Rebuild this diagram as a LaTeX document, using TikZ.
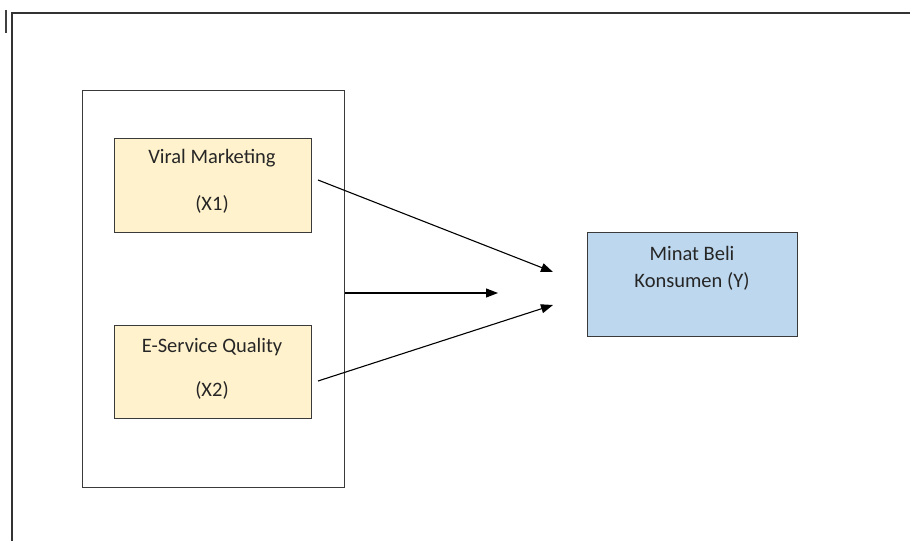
\documentclass[tikz,border=0pt]{standalone}
\usepackage{fontspec}
\setmainfont{Carlito}
\usetikzlibrary{arrows.meta}
\definecolor{boxline}{HTML}{3A3A3A}
\definecolor{xfill}{HTML}{FFF2CC}
\definecolor{yfill}{HTML}{BDD7EE}
\tikzset{
  varbox/.style={draw=boxline, line width=1.3pt, inner sep=0pt, anchor=north west},
  lbl/.style={font=\fontsize{20.5}{24}\selectfont, text=black!85, inner sep=0pt},
  link/.style={line width=1.1pt, -{Triangle[length=12pt,width=9pt]}},
}
\begin{document}
\begin{tikzpicture}[x=1pt, y=-1pt]
  \useasboundingbox (0,0) rectangle (910,541);
  % page frame
  \draw[line width=2pt, black!80] (12,541) -- (12,13) -- (911,13);
  \draw[line width=1.5pt, black!75] (6,10) -- (6,33);
  % grouping box
  \node[varbox, minimum width=262pt, minimum height=397pt] (grp) at (82,90) {};
  % independent variables
  \node[varbox, fill=xfill, minimum width=197pt, minimum height=94pt] (x1) at (114,138) {};
  \node[lbl] (x1a) at (212,158) {Viral Marketing};
  \node[lbl] (x1b) at (212,204) {(X1)};
  \node[varbox, fill=xfill, minimum width=197pt, minimum height=93pt] (x2) at (114,325) {};
  \node[lbl] (x2a) at (212,347) {E-Service Quality};
  \node[lbl] (x2b) at (212,390) {(X2)};
  % dependent variable
  \node[varbox, fill=yfill, minimum width=210pt, minimum height=104pt] (y) at (587,232) {};
  \node[lbl] (ya) at (692,253) {Minat Beli};
  \node[lbl] (yb) at (692,281) {Konsumen (Y)};
  % arrow ends
  \coordinate (s1) at (318,180);
  \coordinate (e1) at (553,272);
  \coordinate (s2) at (318,381);
  \coordinate (e2) at (553,305);
  \coordinate (e3) at (498,293);
  \draw[link] (s1) -- (e1);
  \draw[link] (s2) -- (e2);
  \draw[link] (grp.east |- e3) -- (e3);
\end{tikzpicture}
\end{document}
